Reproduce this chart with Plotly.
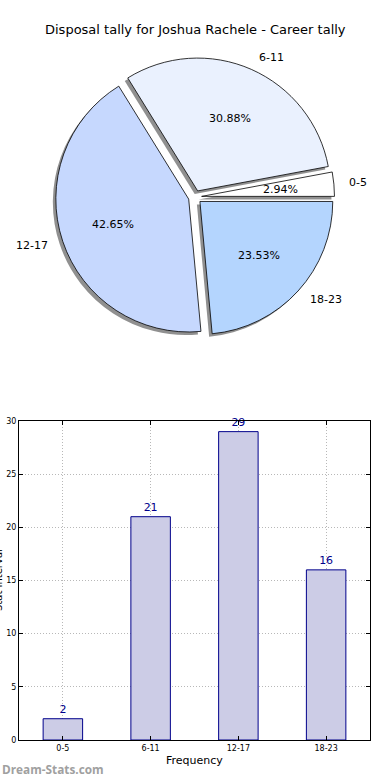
import math
import plotly.graph_objects as go

categories = ["0-5", "6-11", "12-17", "18-23"]
counts = [2, 21, 29, 16]
pie_colors = ["#ffffff", "#eaf1fe", "#c6d8fe", "#b4d5fe"]
title_text = "Disposal tally for Joshua Rachele - Career tally"
x_title = "Frequency"
y_title = "Stat Interval"
y_ticks = [0, 5, 10, 15, 20, 25, 30]

W, H = 390, 780
FONT = "DejaVu Sans"

def px_x(p):
    return p / W

def px_y(p):
    return 1 - p / H

total = sum(counts)
pull_frac = 0.05
pull = [pull_frac] * len(categories)
cx, cy, half = 195, 197, 139.5
radius = half / (1 + pull_frac)
pie_dom = dict(x=[px_x(cx - half), px_x(cx + half)], y=[px_y(cy + half), px_y(cy - half)])
sh = 3
shadow_dom = dict(x=[px_x(cx - half - sh), px_x(cx + half - sh)], y=[px_y(cy + half + sh), px_y(cy - half + sh)])
# counterclockwise from 3 o'clock: plotly ends the first slice at `rotation`
rotation = 90 - 360 * counts[0] / total

fig = go.Figure()

fig.add_trace(go.Pie(
    labels=categories, values=counts, sort=False, direction="counterclockwise", rotation=rotation,
    pull=pull, domain=shadow_dom, marker=dict(colors=["#858585"] * 4, line=dict(width=0)),
    textinfo="none", hoverinfo="skip", showlegend=False, opacity=0.9,
))
fig.add_trace(go.Pie(
    labels=categories, values=counts, sort=False, direction="counterclockwise", rotation=rotation,
    pull=pull, domain=pie_dom, marker=dict(colors=pie_colors, line=dict(color="#000000", width=0.8)),
    textinfo="none", showlegend=False,
))

# pie texts (matplotlib style: pct at 0.6r, labels at 1.1r from the exploded centre)
annotations = []
start = 0.0
for cat, v in zip(categories, counts):
    frac = v / total
    mid = math.radians((start + frac / 2) * 360)
    start += frac
    c, s = math.cos(mid), math.sin(mid)
    d_pct = (pull_frac + 0.6) * radius
    d_lab = (pull_frac + 1.1) * radius
    annotations.append(dict(text=f"{frac * 100:.2f}%", x=px_x(cx + d_pct * c), y=px_y(cy - d_pct * s),
                            xref="paper", yref="paper", showarrow=False,
                            font=dict(family=FONT, size=11, color="#000000"),
                            xanchor="center", yanchor="middle"))
    annotations.append(dict(text=cat, x=px_x(cx + d_lab * c), y=px_y(cy - d_lab * s),
                            xref="paper", yref="paper", showarrow=False,
                            font=dict(family=FONT, size=11, color="#000000"),
                            xanchor="left" if c > 0 else "right", yanchor="middle"))

fig.add_trace(go.Bar(
    x=categories, y=counts, width=0.45,
    marker=dict(color="#ccccE6", line=dict(color="#00008b", width=1)),
    text=counts, textposition="outside", cliponaxis=False,
    textfont=dict(family=FONT, size=11, color="#00008b"), showlegend=False,
    xaxis="x", yaxis="y",
))

annotations += [
    dict(text=title_text, x=0.5, y=px_y(30), xref="paper", yref="paper",
         showarrow=False, font=dict(family=FONT, size=13), xanchor="center", yanchor="middle"),
    dict(text=x_title, x=px_x(194.5), y=px_y(760), xref="paper", yref="paper",
         showarrow=False, font=dict(family=FONT, size=11), xanchor="center", yanchor="middle"),
    dict(text=y_title, x=px_x(-2), y=px_y(580), xref="paper", yref="paper", textangle=-90,
         showarrow=False, font=dict(family=FONT, size=10), xanchor="center", yanchor="middle"),
    dict(text="<b>Dream-Stats.com</b>", x=0, y=px_y(779), xref="paper", yref="paper",
         showarrow=False, font=dict(family="Open Sans", size=11.8, color="#a0a0a0"),
         xanchor="left", yanchor="bottom"),
]

axis_common = dict(showline=True, linecolor="black", linewidth=1, mirror="ticks",
                   ticks="inside", ticklen=4, tickcolor="black",
                   showgrid=True, gridcolor="#b8b8b8", griddash="1px,2px", gridwidth=1,
                   tickfont=dict(family=FONT, size=8), zeroline=False, automargin=False)

fig.update_layout(
    width=W, height=H, margin=dict(l=0, r=0, t=0, b=0, autoexpand=False),
    paper_bgcolor="white", plot_bgcolor="white",
    font=dict(family=FONT, size=9, color="#000000"),
    xaxis=dict(domain=[px_x(19), px_x(370)], range=[-0.5, 3.5], type="category",
               anchor="y", **axis_common),
    yaxis=dict(domain=[px_y(740), px_y(421)], range=[0, 30], tickvals=y_ticks,
               anchor="x", **axis_common),
    annotations=annotations,
)

fig.write_html("out.html", config={"displayModeBar": False},
               post_script="document.body.style.margin='0';document.body.style.overflow='hidden';")
